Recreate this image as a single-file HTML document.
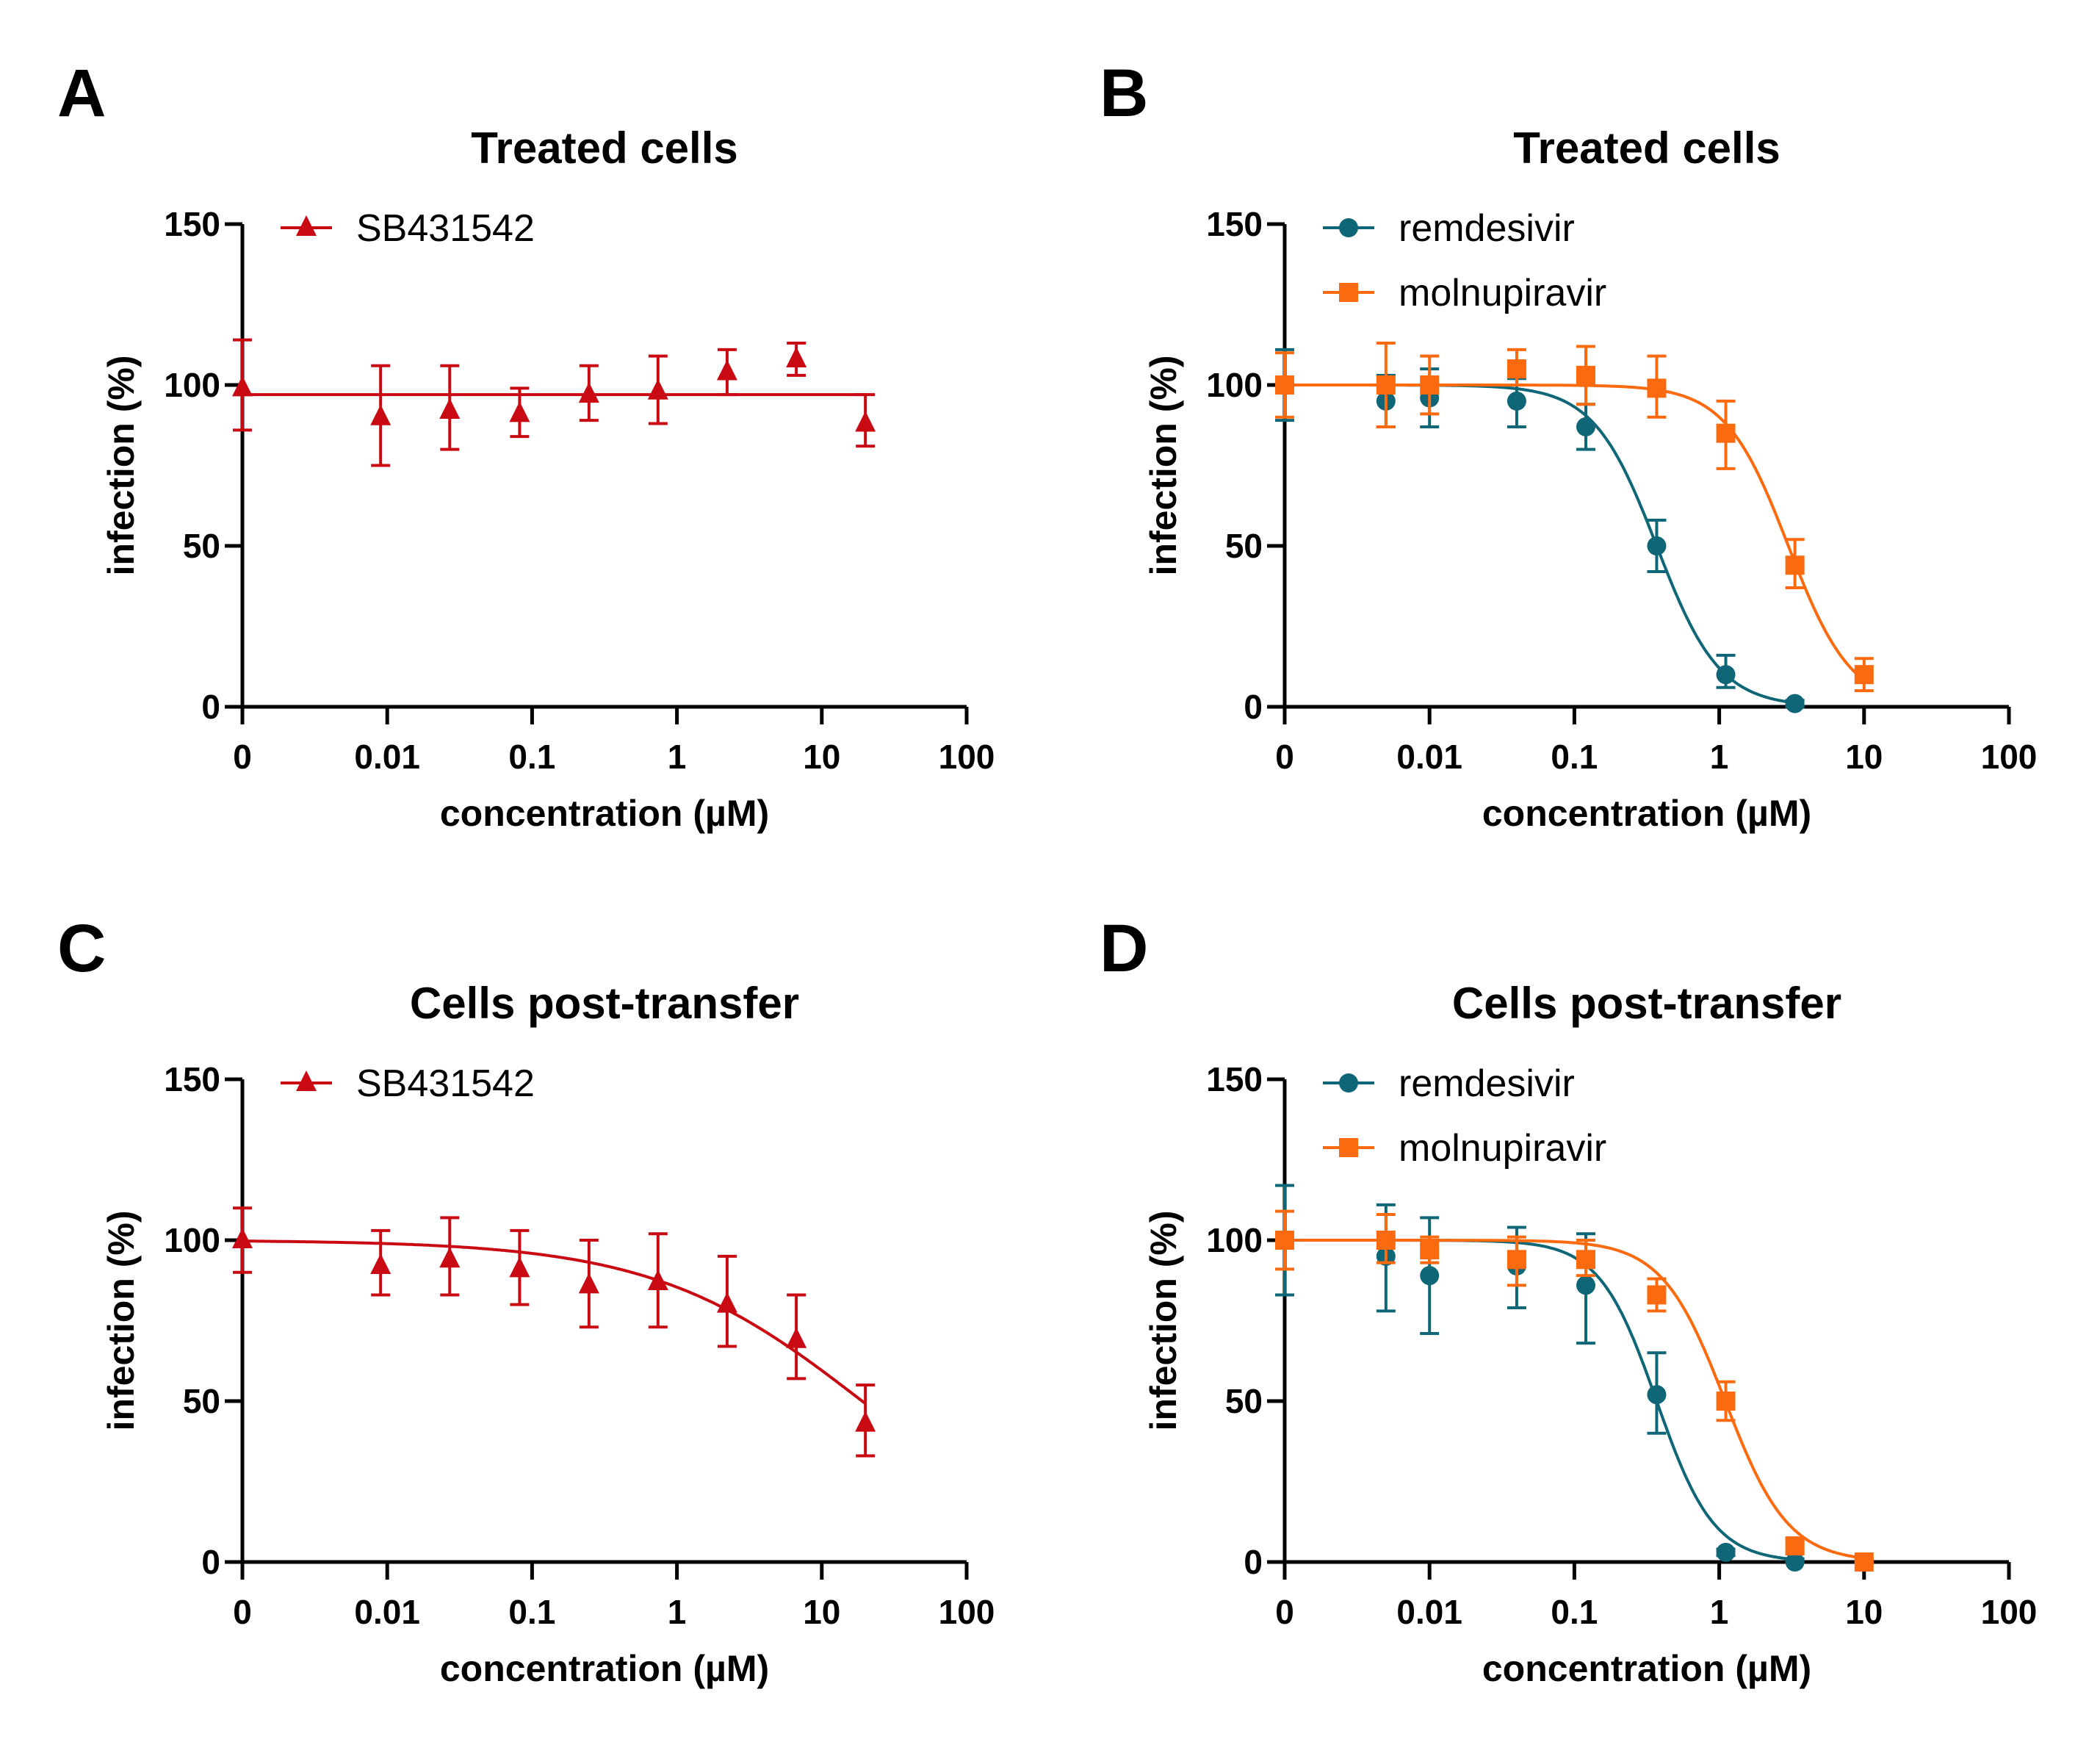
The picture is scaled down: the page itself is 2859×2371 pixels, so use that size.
<!DOCTYPE html>
<html><head><meta charset="utf-8">
<style>
html,body{margin:0;padding:0;background:#fff;}
svg{display:block;font-family:"Liberation Sans",Arial,sans-serif;}
</style></head>
<body>
<svg id="fig" width="2859" height="2371" viewBox="0 0 2859 2371" xmlns="http://www.w3.org/2000/svg"></svg>
<script>
// ---- data ----
const xTickLabels = ["0","0.01","0.1","1","10","100"];
const yTickValues = [0,50,100,150];
const concSB = [0,0.009,0.027,0.082,0.247,0.74,2.22,6.67,20];
const sbTreatedMean = [99,90,92,91,97,98,104,108,88];
const sbTreatedLo = [86,75,80,84,89,88,97,103,81];
const sbTreatedHi = [114,106,106,99,106,109,111,113,97];
const sbPostMean = [100,92,94,91,86,87,80,69,43];
const sbPostLo = [90,83,83,80,73,73,67,57,33];
const sbPostHi = [110,103,107,103,100,102,95,83,55];
const concRem = [0,0.005,0.01,0.04,0.12,0.37,1.11,3.33];
const concMol = [0,0.005,0.01,0.04,0.12,0.37,1.11,3.33,10];
const remTreatedMean = [100,95,96,95,87,50,10,1];
const remTreatedLo = [89,87,87,87,80,42,6,0];
const remTreatedHi = [111,103,105,102,94,58,16,2];
const molTreatedMean = [100,100,100,105,103,99,85,44,10];
const molTreatedLo = [90,87,91,100,94,90,74,37,5];
const molTreatedHi = [110,113,109,111,112,109,95,52,15];
const remPostMean = [100,95,89,92,86,52,3,0];
const remPostLo = [83,78,71,79,68,40,2,0];
const remPostHi = [117,111,107,104,102,65,4,1];
const molPostMean = [100,100,97,94,94,83,50,5,0];
const molPostLo = [91,93,93,86,89,78,44,3,0];
const molPostHi = [109,108,101,101,100,88,56,7,1];

const RED="#c90a12", TEAL="#0e6677", ORANGE="#fb6a0e";
const NS="http://www.w3.org/2000/svg";
const svg=document.getElementById('fig');
function el(tag,attrs,parent,text){const e=document.createElementNS(NS,tag);for(const k in attrs)e.setAttribute(k,attrs[k]);if(text!==undefined)e.textContent=text;(parent||svg).appendChild(e);return e;}

function panel(cfg){
  const g=el('g',{});
  
  
  const L=cfg.left, B=cfg.bottom, dec=197.2, H=657;
  const xs=c=>L+(Math.log10(c<=0?0.001:c)+3)*dec;
  const ys=v=>B-v/150*H;
  const lt=el('text',{x:cfg.left-252,y:B-804,'font-size':92,'font-weight':'bold'},g,cfg.letter);
   
  const t=el('text',{x:L+493,y:B-740,'font-size':60,'font-weight':'bold','text-anchor':'middle'},g,cfg.title);
   
  const ax=el('path',{d:`M${L} ${ys(150)} V${B} H${L+5*dec}`,stroke:'#000','stroke-width':5,fill:'none'},g);
   
  yTickValues.forEach(v=>{
    el('line',{x1:L-24,x2:L,y1:ys(v),y2:ys(v),stroke:'#000','stroke-width':5},g);
    const tl=el('text',{x:L-30,y:ys(v)+16,'font-size':46,'font-weight':'bold','text-anchor':'end'},g,String(v));
     
  });
  xTickLabels.forEach((lab,i)=>{
    const x=L+i*dec;
    el('line',{x1:x,x2:x,y1:B,y2:B+24,stroke:'#000','stroke-width':5},g);
    const tl=el('text',{x:x,y:B+84,'font-size':46,'font-weight':'bold','text-anchor':'middle'},g,lab);
     
  });
  const xl=el('text',{x:L+493,y:B+162,'font-size':50,'font-weight':'bold','text-anchor':'middle'},g,'concentration (µM)');
   
  const yc=ys(75);
  const yl=el('text',{x:0,y:0,'font-size':50,'font-weight':'bold','text-anchor':'middle',transform:`translate(${L-148},${yc}) rotate(-90)`},g,'infection (%)');
   
  cfg.series.forEach((s,si)=>{
    const sg=el('g',{},g);
    
    
    let d='';
    const x0=Math.log10(0.001), x1=Math.log10(s.curveEnd);
    for(let i=0;i<=300;i++){const lx=x0+(x1-x0)*i/300;const c=Math.pow(10,lx);
      const v=s.top/(1+Math.pow(c/s.ic50,s.hill));d+=(i?'L':'M')+xs(c).toFixed(1)+' '+ys(v).toFixed(1);}
    const cv=el('path',{d:d,stroke:s.color,'stroke-width':4,fill:'none'},sg);
     
    s.conc.forEach((c,i)=>{
      const x=xs(c);
      const eb=el('path',{d:`M${x} ${ys(s.lo[i])}V${ys(s.hi[i])}M${x-13} ${ys(s.lo[i])}h26M${x-13} ${ys(s.hi[i])}h26`,stroke:s.color,'stroke-width':4,fill:'none'},sg);
       
      const m=marker(s.shape,x,ys(s.mean[i]),s.color,sg);
       
    });
    const ly=B-H+5+si*88;
    const lg=el('g',{},g);
     
    el('line',{x1:L+52,x2:L+122,y1:ly,y2:ly,stroke:s.color,'stroke-width':4},lg);
    marker(s.shape,L+87,ly,s.color,lg);
    el('text',{x:L+155,y:ly+18,'font-size':52},lg,s.name);
  });
}
function marker(shape,x,y,color,parent){
  if(shape==='tri') return el('path',{d:`M${x} ${y-17}L${x+14} ${y+11}L${x-14} ${y+11}Z`,fill:color},parent);
  if(shape==='circle') return el('circle',{cx:x,cy:y,r:13,fill:color},parent);
  return el('rect',{x:x-13,y:y-13,width:26,height:26,fill:color},parent);
}
panel({letter:'A',title:'Treated cells',left:330,bottom:962,series:[
  {name:'SB431542',shape:'tri',color:RED,conc:concSB,mean:sbTreatedMean,lo:sbTreatedLo,hi:sbTreatedHi,top:97,ic50:1e9,hill:1,curveEnd:20}]});
panel({letter:'B',title:'Treated cells',left:1749,bottom:962,series:[
  {name:'remdesivir',shape:'circle',color:TEAL,conc:concRem,mean:remTreatedMean,lo:remTreatedLo,hi:remTreatedHi,top:100,ic50:0.37,hill:2,curveEnd:3.33},
  {name:'molnupiravir',shape:'square',color:ORANGE,conc:concMol,mean:molTreatedMean,lo:molTreatedLo,hi:molTreatedHi,top:100,ic50:3.0,hill:2,curveEnd:10}]});
panel({letter:'C',title:'Cells post-transfer',left:330,bottom:2126,series:[
  {name:'SB431542',shape:'tri',color:RED,conc:concSB,mean:sbPostMean,lo:sbPostLo,hi:sbPostHi,top:100,ic50:19,hill:0.6,curveEnd:20}]});
panel({letter:'D',title:'Cells post-transfer',left:1749,bottom:2126,series:[
  {name:'remdesivir',shape:'circle',color:TEAL,conc:concRem,mean:remPostMean,lo:remPostLo,hi:remPostHi,top:100,ic50:0.37,hill:2.2,curveEnd:3.33},
  {name:'molnupiravir',shape:'square',color:ORANGE,conc:concMol,mean:molPostMean,lo:molPostLo,hi:molPostHi,top:100,ic50:1.1,hill:2,curveEnd:10}]});
</script>
</body></html>
